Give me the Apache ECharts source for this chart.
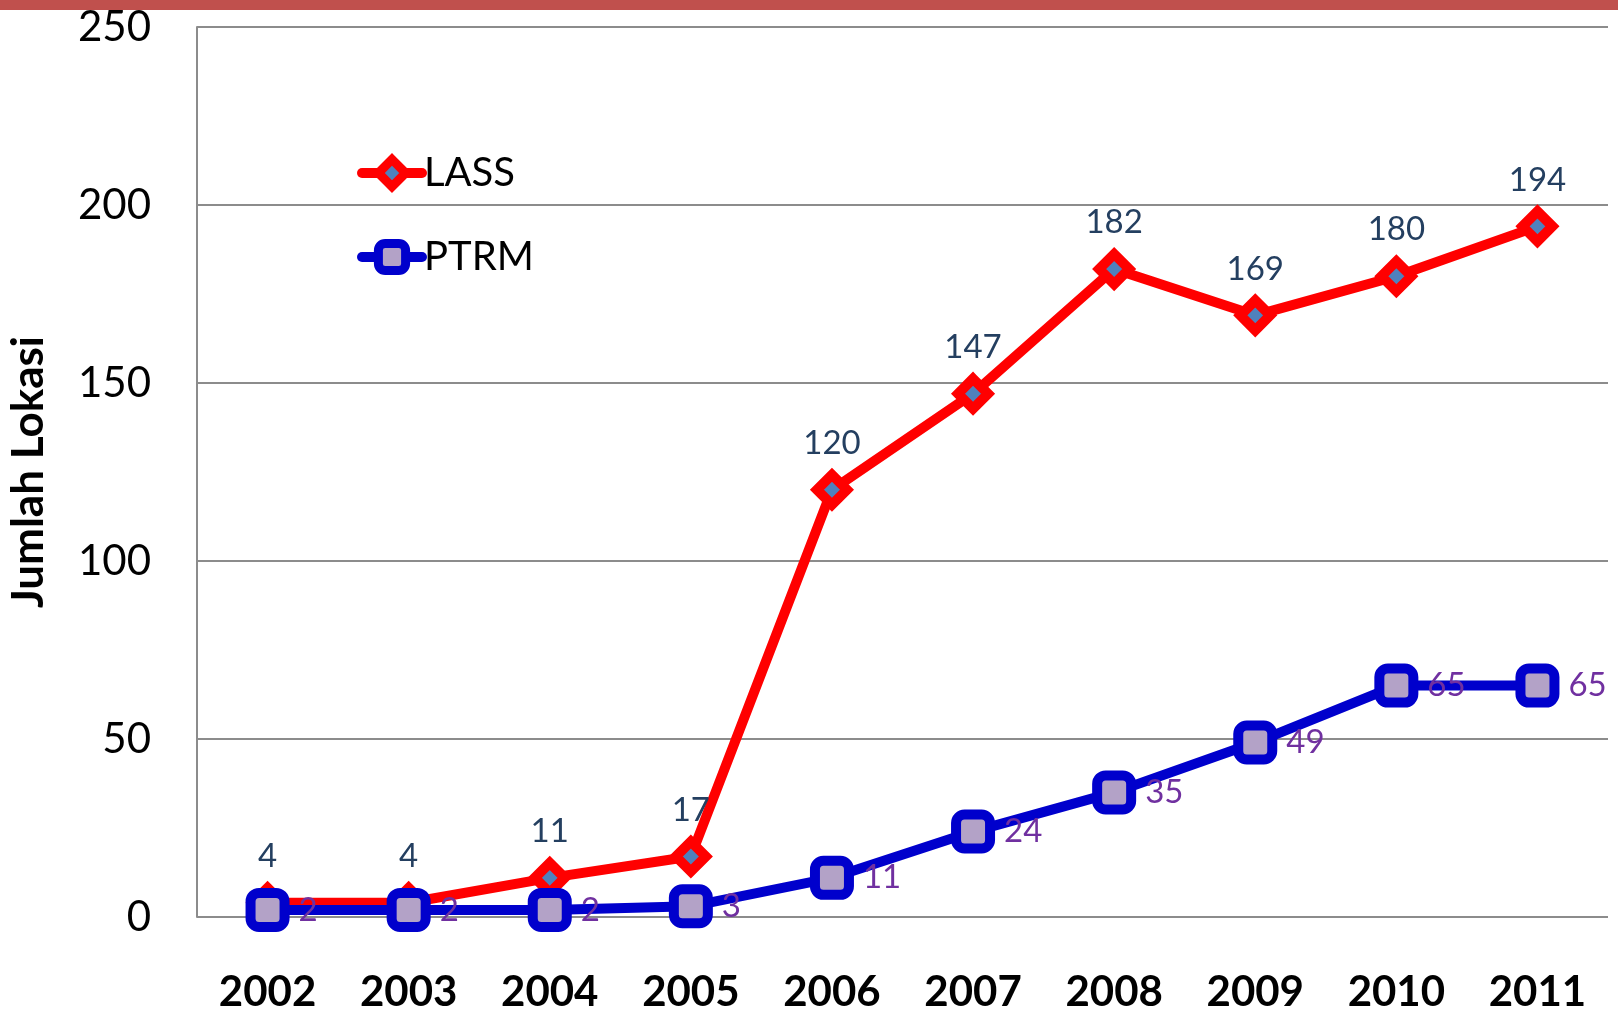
<!DOCTYPE html>
<html>
<head>
<meta charset="utf-8">
<style>
  html, body { margin: 0; padding: 0; background: #fff; }
  #chart { width: 1618px; height: 1012px; }
</style>
<script src="https://cdn.jsdelivr.net/npm/echarts@6/dist/echarts.min.js"></script>
</head>
<body>
<div id="chart"></div>
<script>
// data
const years = ['2002', '2003', '2004', '2005', '2006', '2007', '2008', '2009', '2010', '2011'];
const lass = [4, 4, 11, 17, 120, 147, 182, 169, 180, 194];
const ptrm = [2, 2, 2, 3, 11, 24, 35, 49, 65, 65];
const yTicks = [0, 50, 100, 150, 200, 250];

const font = 'Lato, "Open Sans", sans-serif';

var chart = echarts.init(document.getElementById('chart'));

var option = {
  animation: false,
  graphic: [
    {
      type: 'rect',
      shape: { x: 0, y: 0, width: 1618, height: 10 },
      style: { fill: '#C0504D' }
    }
  ],
  grid: { left: 197, right: 10, top: 27, bottom: 95, containLabel: false, outerBoundsMode: 'none' },
  legend: {
    orient: 'vertical',
    left: 352,
    top: 148,
    itemGap: 44,
    itemWidth: 60,
    itemHeight: 34,
    textStyle: { fontFamily: font, fontSize: 40, color: '#000', padding: [0, 0, 0, -3] },
    data: [
      {
        name: 'LASS',
        itemStyle: { color: '#4F81BD', borderColor: '#FF0000', borderWidth: 9 },
        lineStyle: { color: '#FF0000', width: 10, cap: 'round' }
      },
      {
        name: 'PTRM',
        itemStyle: { color: '#B3A2C7', borderColor: '#0000CC', borderWidth: 9 },
        lineStyle: { color: '#0000CC', width: 10, cap: 'round' }
      }
    ]
  },
  xAxis: {
    type: 'category',
    data: years,
    axisLine: { show: false },
    axisTick: { show: false },
    axisLabel: { fontFamily: font, fontSize: 42, fontWeight: 'bold', color: '#000', margin: 54 }
  },
  yAxis: {
    type: 'value',
    min: yTicks[0],
    max: yTicks[yTicks.length - 1],
    interval: 50,
    name: 'Jumlah Lokasi',
    nameLocation: 'middle',
    nameGap: 146,
    nameTextStyle: { fontFamily: font, fontSize: 44, fontWeight: 'bold', color: '#000' },
    axisLine: { show: true, lineStyle: { color: '#8c8c8c', width: 2 } },
    axisTick: { show: false },
    axisLabel: { fontFamily: font, fontSize: 42, color: '#000', margin: 46 },
    splitLine: { lineStyle: { color: '#8c8c8c', width: 2 } }
  },
  series: [
    {
      name: 'LASS',
      type: 'line',
      data: lass,
      symbol: 'diamond',
      symbolSize: 30,
      lineStyle: { color: '#FF0000', width: 10 },
      itemStyle: { color: '#4F81BD', borderColor: '#FF0000', borderWidth: 10 },
      label: {
        show: true,
        position: 'top',
        distance: 10,
        fontFamily: font,
        fontSize: 33,
        color: '#243F60'
      },
      z: 2
    },
    {
      name: 'PTRM',
      type: 'line',
      data: ptrm,
      symbol: 'roundRect',
      symbolSize: 34,
      lineStyle: { color: '#0000CC', width: 10 },
      itemStyle: { color: '#B3A2C7', borderColor: '#0000CC', borderWidth: 10 },
      label: {
        show: true,
        position: 'right',
        distance: 9,
        fontFamily: font,
        fontSize: 33,
        color: '#7030A0'
      },
      z: 3
    }
  ]
};

option && chart.setOption(option);
</script>
</body>
</html>
